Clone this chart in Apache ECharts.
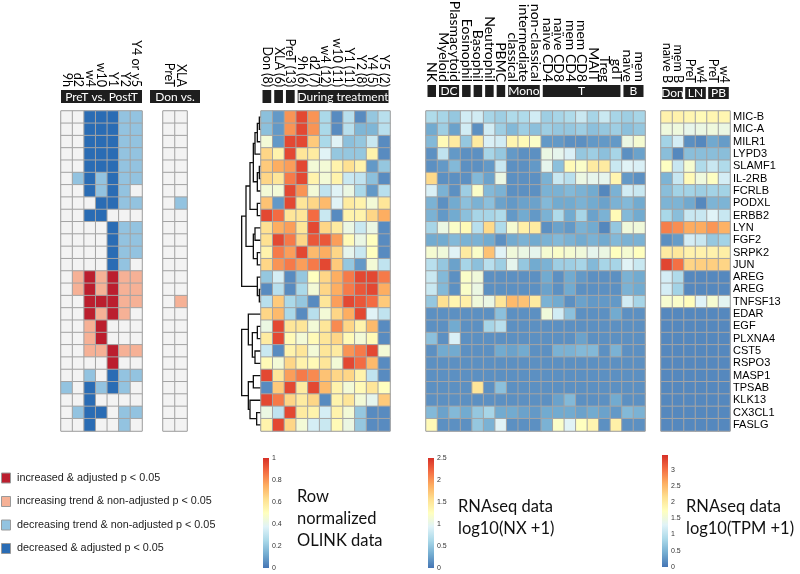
<!DOCTYPE html>
<html>
<head>
<meta charset="utf-8">
<script src="https://cdn.jsdelivr.net/npm/echarts@6/dist/echarts.min.js"></script>
<style>html,body{margin:0;padding:0;background:#fff}#c{width:800px;height:574px}</style>
</head>
<body>
<div id="c"></div>
<script>
// ---------------- DATA ----------------
const genes = ['MIC-B','MIC-A','MILR1','LYPD3','SLAMF1','IL-2RB','FCRLB','PODXL','ERBB2','LYN','FGF2','SRPK2','JUN','AREG','AREG','TNFSF13','EDAR','EGF','PLXNA4','CST5','RSPO3','MASP1','TPSAB','KLK13','CX3CL1','FASLG'];

const pvCols = ['9h','d2','w4','w10','Y1','Y2','Y4 or y5'];
// 1 increased adj, 0.5 increasing trend, -0.5 decreasing trend, -1 decreased adj, 0 none
const pvValues = [
[0,0,-1,-1,-1,-.5,-.5],
[0,0,-1,-1,-1,-.5,-.5],
[0,0,-1,-1,-1,-.5,-.5],
[0,0,-1,-1,-1,-.5,-.5],
[0,0,-1,-1,-1,-.5,-.5],
[0,-.5,-1,-.5,-1,-.5,-.5],
[0,0,-1,-.5,-1,-.5,0],
[0,0,0,-1,-1,-.5,-.5],
[0,0,-1,-1,0,0,0],
[0,0,0,0,-1,-.5,-.5],
[0,0,0,0,-1,-.5,-.5],
[0,0,0,0,-1,-.5,-.5],
[0,0,0,0,-1,-.5,0],
[0,.5,1,.5,1,.5,.5],
[0,.5,1,.5,1,.5,.5],
[0,0,1,1,1,.5,.5],
[0,0,1,.5,1,.5,0],
[0,0,.5,1,0,0,0],
[0,0,.5,1,0,0,0],
[0,0,.5,.5,1,.5,.5],
[0,0,0,0,1,0,0],
[0,0,-.5,0,-1,-.5,-.5],
[-.5,0,-1,-.5,-1,-.5,0],
[0,0,-1,0,0,0,0],
[0,-.5,-1,-1,0,-.5,-.5],
[0,0,-1,0,0,-.5,0]
];

const donCols = ['PreT','XLA'];
const donValues = [
[0,0],[0,0],[0,0],[0,0],[0,0],[0,0],[0,0],[0,-.5],[0,0],[0,0],[0,0],[0,0],[0,0],
[0,0],[0,0],[0,.5],[0,0],[0,0],[0,0],[0,0],[0,0],[0,0],[0,0],[0,0],[0,0],[0,0]
];

const olinkCols = ['Don (8)','XLA (6)','PreT (13)','9h (6)','d2 (7)','w4 (12)','w10 (11)','Y1 (11)','Y2 (8)','Y4 (5)','Y5 (2)'];
const olinkValues = [
[0.18,0.08,0.8,0.95,0.8,0.25,0.05,0.28,0.05,0.2,0.28],
[0.18,0.08,0.8,0.95,0.8,0.25,0.05,0.28,0.15,0.15,0.28],
[0.45,0.08,0.95,0.95,0.68,0.25,0.38,0.18,0.2,0.32,0.05],
[0.65,0.55,0.95,0.6,0.58,0.38,0.2,0.2,0.2,0.55,0.05],
[0.68,0.75,0.78,0.95,0.45,0.45,0.55,0.62,0.55,0.08,0.2],
[0.65,0.6,0.85,0.95,0.55,0.45,0.55,0.32,0.3,0.18,0.05],
[0.45,0.45,0.95,0.8,0.45,0.3,0.38,0.42,0.25,0.08,0.28],
[0.7,0.08,0.95,0.6,0.65,0.72,0.38,0.58,0.55,0.45,0.6],
[0.95,0.88,0.6,0.6,0.88,0.32,0.05,0.55,0.55,0.65,0.75],
[0.62,0.75,0.78,0.6,0.95,0.65,0.58,0.42,0.32,0.42,0.05],
[0.62,0.95,0.85,0.65,0.92,0.92,0.78,0.52,0.42,0.5,0.05],
[0.55,0.85,0.78,0.95,0.72,0.75,0.65,0.4,0.32,0.5,0.05],
[0.65,0.8,0.85,0.78,0.85,0.95,0.68,0.2,0.08,0.45,0.3],
[0.2,0.35,0.05,0.2,0.5,0.65,0.75,0.85,0.95,0.95,0.85],
[0.05,0.28,0.05,0.25,0.45,0.65,0.75,0.85,0.92,0.95,0.75],
[0.28,0.68,0.25,0.2,0.05,0.6,0.78,0.95,0.92,0.88,0.68],
[0.65,0.72,0.25,0.05,0.28,0.45,0.65,0.75,0.95,0.38,0.3],
[0.42,0.95,0.6,0.6,0.45,0.6,0.82,0.65,0.55,0.72,0.05],
[0.58,0.95,0.52,0.45,0.52,0.6,0.65,0.52,0.45,0.52,0.05],
[0.32,0.05,0.55,0.6,0.45,0.6,0.58,0.8,0.85,0.95,0.45],
[0.52,0.45,0.65,0.55,0.52,0.6,0.45,0.95,0.88,0.72,0.05],
[0.95,0.6,0.78,0.85,0.82,0.7,0.65,0.65,0.55,0.3,0.05],
[0.05,0.68,0.95,0.58,0.95,0.72,0.55,0.45,0.52,0.6,0.5],
[0.95,0.85,0.65,0.58,0.65,0.05,0.55,0.6,0.45,0.4,0.68],
[0.42,0.3,0.95,0.58,0.55,0.35,0.55,0.45,0.2,0.05,0.05],
[0.55,0.95,0.65,0.45,0.35,0.32,0.52,0.42,0.2,0.05,0.05]
];

// dendrogram merges: [childA, childB, height]; leaves 0..25, merges numbered from 26
const dendroMerges = [
[0,1,5],[26,2,11],[27,3,18],[4,5,5],[29,6,11],[28,30,23],[7,8,11],[31,32,33],
[9,10,18],[11,12,11],[34,35,23],[33,36,45],[14,15,5],[13,38,11],[37,39,58],
[17,18,11],[19,20,18],[41,42,26],[16,43,38],[21,22,23],[24,25,13],[23,46,33],[45,47,38],[44,48,58]
];

const nxCols = ['NK','Myeloid','Plasmacytoid','Eosinophil','Basophil','Neutrophil','PBMC','classical','intermediate','non-classical','naïve CD4','naïve CD8','mem CD4','mem CD8','MAIT','Treg','gdT','naïve','mem'];
const nxValues = [
[0.65,0.6,0.5,0.85,0.85,0.6,0.55,0.65,0.65,0.85,0.55,0.6,0.65,0.8,0.6,0.8,0.6,0.55,0.6],
[0.3,0.55,0.25,0.85,0.15,0.85,0.55,0.4,0.55,0.45,0.55,0.5,0.5,0.55,0.45,0.5,0.55,0.45,0.5],
[0.4,1.3,1.45,0.5,1.45,0.9,0.85,1.35,1.3,1.2,0.2,0.2,0.15,0.15,0.2,0.2,0.2,1.05,1.15],
[0.15,0.75,0.2,0.15,0.15,0.6,0.5,0.2,0.15,0.15,1.05,1.0,0.9,0.5,0.55,0.45,0.6,0.15,0.25],
[0.15,0.2,0.4,0.15,0.15,0.2,0.8,0.15,0.15,0.2,1.0,0.45,1.3,1.2,1.45,1.45,0.8,0.95,0.9],
[1.6,0.15,0.15,0.15,0.4,0.25,1.05,0.15,0.15,0.15,0.35,0.8,0.7,1.05,1.0,1.0,1.35,0.2,0.15],
[0.9,0.35,0.15,0.55,1.2,0.4,0.35,0.15,0.15,0.15,0.35,0.35,0.4,0.35,0.3,0.1,0.35,0.85,0.8],
[0.35,0.15,0.3,0.45,0.35,0.45,0.25,0.2,0.25,0.25,0.4,0.3,0.3,0.35,0.3,0.25,0.35,0.4,0.3],
[0.35,0.2,0.3,0.45,0.6,0.6,0.65,0.2,0.3,0.2,0.35,0.65,0.3,0.6,0.25,0.35,1.3,0.4,0.3],
[0.6,1.05,1.2,1.3,0.7,1.6,0.65,1.15,1.4,1.45,0.15,0.25,0.2,0.35,0.3,0.1,0.5,1.1,1.1],
[0.3,0.3,0.4,0.35,0.35,0.3,0.15,0.3,0.35,0.3,0.35,0.4,0.35,0.3,0.35,0.3,0.4,0.35,0.35],
[1.15,1.1,0.95,1.45,1.2,1.75,0.95,1.1,1.05,1.0,1.15,1.2,1.15,1.1,1.0,1.05,1.25,1.15,1.25],
[0.7,0.5,0.25,0.6,0.45,0.7,0.55,1.0,0.5,0.3,0.35,0.55,0.55,0.6,0.4,0.6,0.6,0.95,0.8],
[0.8,0.4,0.15,1.2,1.1,0.15,0.15,0.15,0.15,0.15,0.3,0.15,0.3,0.2,0.15,0.15,0.15,0.35,0.3],
[0.8,0.4,0.15,1.2,1.05,0.15,0.15,0.15,0.15,0.15,0.25,0.15,0.3,0.15,0.15,0.15,0.15,0.35,0.3],
[0.5,1.55,1.35,1.4,1.1,1.05,1.5,1.8,1.75,1.45,0.35,0.3,0.15,0.25,0.2,0.2,0.2,0.85,0.6],
[0.15,0.15,0.15,0.15,0.15,0.15,0.45,0.15,0.15,0.15,1.1,0.85,0.45,0.15,0.15,0.15,0.3,0.15,0.15],
[0.15,0.15,0.3,0.15,0.15,0.6,0.7,0.15,0.15,0.15,0.15,0.15,0.15,0.15,0.15,0.15,0.15,0.15,0.15],
[0.45,0.15,0.9,0.15,0.15,0.15,0.15,0.15,0.15,0.15,0.15,0.15,0.15,0.25,0.15,0.15,0.15,0.15,0.15],
[0.15,0.3,0.3,0.15,0.15,0.15,0.3,0.25,0.3,0.15,0.15,0.35,0.35,0.4,0.4,0.15,0.35,0.15,0.15],
[0.15,0.15,0.15,0.15,0.15,0.15,0.15,0.15,0.15,0.15,0.15,0.15,0.15,0.15,0.15,0.15,0.15,0.15,0.15],
[0.15,0.15,0.15,0.15,0.15,0.15,0.15,0.15,0.15,0.15,0.15,0.15,0.15,0.15,0.15,0.15,0.15,0.15,0.15],
[0.15,0.15,0.15,0.15,1.5,0.15,0.45,0.15,0.15,0.15,0.15,0.15,0.15,0.15,0.15,0.15,0.15,0.15,0.15],
[0.15,0.15,0.15,0.15,0.15,0.15,0.15,0.15,0.15,0.15,0.15,0.25,0.4,0.15,0.15,0.15,0.3,0.15,0.15],
[0.4,0.25,0.4,0.3,0.5,0.6,0.3,0.3,0.25,0.2,0.3,0.3,0.3,0.25,0.3,0.25,0.2,0.4,0.35],
[1.3,0.15,0.15,0.15,0.5,0.35,0.95,0.15,0.15,0.15,0.35,1.2,0.95,1.25,1.35,0.15,1.4,0.15,0.15]
];

const tpmCols = ['naïve B','mem B','PreT','w4','PreT','w4'];
const tpmValues = [
[1.9,1.9,1.85,1.8,1.85,1.85],
[1.5,1.5,1.4,1.45,1.5,1.45],
[0.8,1.2,0.2,0.15,0.4,0.3],
[0.6,0.15,0.6,0.6,0.6,0.6],
[1.7,1.1,1.6,0.9,1.1,0.9],
[0.5,1.1,1.8,1.5,1.7,1.2],
[0.6,0.8,0.8,0.75,0.8,0.8],
[0.5,0.5,0.4,0.15,0.5,0.5],
[0.85,0.6,1.1,1.1,1.3,1.1],
[2.9,2.8,2.6,2.6,2.75,2.55],
[0.2,0.3,1.2,1.1,0.7,0.8],
[2.0,2.05,1.9,1.9,1.9,1.95],
[3.3,3.0,2.25,2.3,2.3,2.25],
[1.2,0.9,0.15,0.15,0.15,0.15],
[1.2,0.8,0.15,0.15,0.15,0.15],
[1.6,1.65,1.75,1.3,1.6,1.35],
[0.15,0.15,0.15,0.15,0.15,0.15],
[0.15,0.15,0.15,0.15,0.15,0.15],
[0.15,0.15,0.15,0.15,0.15,0.15],
[0.15,0.15,0.15,0.15,0.15,0.15],
[0.15,0.15,0.15,0.15,0.15,0.15],
[0.15,0.15,0.15,0.15,0.15,0.15],
[0.15,0.15,0.15,0.15,0.15,0.15],
[0.15,0.15,0.15,0.15,0.15,0.15],
[0.15,0.15,0.15,0.15,0.15,0.15],
[0.15,0.15,0.15,0.15,0.15,0.15]
];

const pvGroups = [{label:'PreT vs. PostT', from:0, to:6}];
const donGroups = [{label:'Don vs.', from:0, to:1}];
const olinkGroups = [{label:'',from:0,to:0},{label:'',from:1,to:1},{label:'',from:2,to:2},{label:'During treatment',from:3,to:10}];
const nxGroups = [{label:'',from:0,to:0},{label:'DC',from:1,to:2},{label:'',from:3,to:3},{label:'',from:4,to:4},{label:'',from:5,to:5},{label:'',from:6,to:6},{label:'Mono',from:7,to:9},{label:'T',from:10,to:16},{label:'B',from:17,to:18}];
const tpmGroups = [{label:'Don',from:0,to:1},{label:'LN',from:2,to:3},{label:'PB',from:4,to:5}];

const legendItems = [
  {value:1, label:'increased & adjusted p < 0.05'},
  {value:0.5, label:'increasing trend & non-adjusted p < 0.05'},
  {value:-0.5, label:'decreasing trend & non-adjusted p < 0.05'},
  {value:-1, label:'decreased & adjusted p < 0.05'}
];
const olinkScale = {min:0, max:1, step:0.2, title:['Row','normalized','OLINK data']};
const nxScale = {min:0, max:2.5, step:0.5, title:['RNAseq data','log10(NX +1)']};
const tpmScale = {min:0, max:3.45, step:0.5, title:['RNAseq data','log10(TPM +1)']};

// ---------------- STYLE / LAYOUT ----------------
const catColors = {'-1':'#2a6cb4','-0.5':'#93c3e0','0':'#f3f3f3','0.5':'#f6b196','1':'#bb1e2e'};
const palette = ['#4575b4','#74add1','#abd9e9','#e0f3f8','#ffffbf','#fee090','#fdae61','#f46d43','#d73027'];
const TOP = 111, H = 320;
const P = {
  pv: {left:61, width:81, barTop:90, barH:13, inset:0},
  don:{left:163, width:24, barTop:90, barH:13, inset:-13},
  den:{left:241, width:20},
  ol: {left:261, width:129, barTop:90, barH:13, inset:1.5},
  nx: {left:426, width:219, barTop:85, barH:12, inset:1.5},
  tpm:{left:661, width:69, barTop:87, barH:12, inset:1.2}
};
const FONT = 'Lato';
const cellBorder = '#a4a4a4';

const chart = echarts.init(document.getElementById('c'));

function mkGrid(p, show){
  return {left:p.left, top:TOP, width:p.width, height:H, show:show, borderColor:'#999', borderWidth:1, outerBoundsMode:'none', containLabel:false};
}
function catX(gi, cols, margin, fs){
  return {gridIndex:gi, type:'category', position:'top', data:cols.map((c,i)=>String(i)),
    axisLine:{show:false}, axisTick:{show:false}, splitLine:{show:false},
    axisLabel:{interval:0, rotate:90, margin:margin, fontSize:fs, fontFamily:FONT, color:'#000', formatter:v=>cols[+v]}};
}
function catY(gi, showLabels){
  return {gridIndex:gi, type:'category', inverse:true, data:genes.map((g,i)=>String(i)),
    axisLine:{show:false}, axisTick:{show:false}, splitLine:{show:false}, position:'right',
    axisLabel:{show:showLabels, interval:0, margin:3, fontSize:11, fontFamily:'Liberation Sans', color:'#000', formatter:v=>genes[+v]}};
}
function toCells(vals){ const out=[]; vals.forEach((row,r)=>row.forEach((v,c)=>out.push([c,r,v]))); return out; }
function heat(gi, vals){
  return {type:'heatmap', xAxisIndex:gi, yAxisIndex:gi, data:toCells(vals), silent:true,
    itemStyle:{borderColor:cellBorder, borderWidth:1}, emphasis:{disabled:true}};
}

// dendrogram geometry from merges
const nLeaf = genes.length;
const pos = genes.map((g,i)=>i+0.5), hgt = genes.map(()=>0);
const dendroLines = [];
dendroMerges.forEach((m,k)=>{
  const [a,b,h] = m;
  dendroLines.push({coords:[[hgt[a],pos[a]],[h,pos[a]],[h,pos[b]],[hgt[b],pos[b]]]});
  pos[nLeaf+k] = (pos[a]+pos[b])/2; hgt[nLeaf+k] = h;
});

function cbar(gi, sc){
  const stops = palette.map((c,i)=>({offset:i/(palette.length-1), color:c}));
  return {type:'bar', xAxisIndex:gi, yAxisIndex:gi, data:[sc.max], barWidth:'100%', silent:true,
    itemStyle:{color:new echarts.graphic.LinearGradient(0,1,0,0,stops)}};
}
function cbAxes(gi, sc){
  const aligned = Math.abs(sc.max/sc.step - Math.round(sc.max/sc.step))<1e-9;
  return [{gridIndex:gi, type:'category', data:['c'], show:false},
    {gridIndex:gi, type:'value', min:sc.min, max:sc.max, interval:sc.step, position:'right',
     axisLine:{show:false}, axisTick:{show:false}, splitLine:{show:false},
     axisLabel:{fontSize:7, margin:3, color:'#333', fontFamily:'Liberation Sans', showMaxLabel:aligned}}];
}

const cbGrids = [
  {left:263, top:458, width:6, height:110},
  {left:428, top:458, width:6, height:110},
  {left:662, top:455, width:6, height:112}
];
const cbA = [cbAxes(6, olinkScale), cbAxes(7, nxScale), cbAxes(8, tpmScale)];

// header bars
const graphics = [];
function headerBars(p, groups, n){
  const cw = p.width/n;
  groups.forEach(g=>{
    const x = p.left + g.from*cw + p.inset, w = (g.to-g.from+1)*cw - 2*p.inset;
    graphics.push({type:'rect', shape:{x:x, y:p.barTop, width:w, height:p.barH}, style:{fill:'#1e1e1e'}, silent:true});
    if (g.label) graphics.push({type:'text', x:x+w/2, y:p.barTop+p.barH/2+0.5, style:{text:g.label, fill:'#fff', font:'12px Lato', align:'center', verticalAlign:'middle'}, silent:true});
  });
}
headerBars(P.pv, pvGroups, pvCols.length);
headerBars(P.don, donGroups, donCols.length);
headerBars(P.ol, olinkGroups, olinkCols.length);
headerBars(P.nx, nxGroups, nxCols.length);
headerBars(P.tpm, tpmGroups, tpmCols.length);

// legend
legendItems.forEach((it,i)=>{
  const y = 473 + i*23.5;
  graphics.push({type:'rect', shape:{x:1.5, y:y, width:9, height:10}, style:{fill:catColors[String(it.value)], stroke:'#9a9a9a', lineWidth:1}, silent:true});
  graphics.push({type:'text', x:17, y:y+5, style:{text:it.label, fill:'#222', font:'10.8px "Liberation Sans"', verticalAlign:'middle'}, silent:true});
});
// colorbar titles
function titles(x, y0, lines){
  lines.forEach((t,i)=>graphics.push({type:'text', x:x, y:y0+i*22, style:{text:t, fill:'#111', font:'16.5px Lato', verticalAlign:'middle'}, silent:true}));
}
titles(297, 497, olinkScale.title);
titles(458, 507, nxScale.title);
titles(686, 507, tpmScale.title);

const option = {
  animation:false,
  backgroundColor:'#fff',
  grid:[mkGrid(P.pv,true), mkGrid(P.don,true), mkGrid(P.den,false), mkGrid(P.ol,true), mkGrid(P.nx,true), mkGrid(P.tpm,true),
        Object.assign({outerBoundsMode:'none', show:false}, cbGrids[0]), Object.assign({outerBoundsMode:'none', show:false}, cbGrids[1]), Object.assign({outerBoundsMode:'none', show:false}, cbGrids[2])],
  xAxis:[catX(0,pvCols,24,12.5), catX(1,donCols,24,12.5),
    {gridIndex:2, type:'value', min:0, max:60, inverse:true, show:false},
    catX(3,olinkCols,24,12.5), catX(4,nxCols,29,14), catX(5,tpmCols,28,12.5),
    cbA[0][0], cbA[1][0], cbA[2][0]],
  yAxis:[catY(0,false), catY(1,false),
    {gridIndex:2, type:'value', min:0, max:26, inverse:true, show:false},
    catY(3,false), catY(4,false), catY(5,true),
    cbA[0][1], cbA[1][1], cbA[2][1]],
  visualMap:[
    {type:'piecewise', show:false, seriesIndex:[0,1], dimension:2,
     pieces:[-1,-0.5,0,0.5,1].map(v=>({value:v, color:catColors[String(v)]}))},
    {type:'continuous', show:false, seriesIndex:3, dimension:2, min:olinkScale.min, max:olinkScale.max, inRange:{color:palette}},
    {type:'continuous', show:false, seriesIndex:4, dimension:2, min:nxScale.min, max:nxScale.max, inRange:{color:palette}},
    {type:'continuous', show:false, seriesIndex:5, dimension:2, min:tpmScale.min, max:tpmScale.max, inRange:{color:palette}}
  ],
  series:[
    heat(0,pvValues), heat(1,donValues),
    {type:'lines', coordinateSystem:'cartesian2d', xAxisIndex:2, yAxisIndex:2, polyline:true, silent:true,
     lineStyle:{color:'#111', width:1.3, opacity:1}, data:dendroLines},
    heat(3,olinkValues), heat(4,nxValues), heat(5,tpmValues),
    cbar(6,olinkScale), cbar(7,nxScale), cbar(8,tpmScale)
  ],
  graphic:graphics
};
chart.setOption(option);
</script>
</body>
</html>
